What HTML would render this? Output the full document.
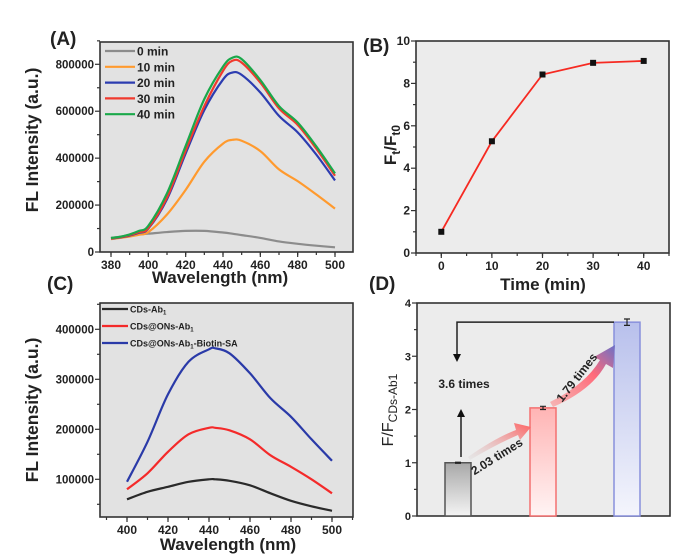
<!DOCTYPE html>
<html><head><meta charset="utf-8"><style>
html,body{margin:0;padding:0;background:#fff;}
svg{display:block;font-family:"Liberation Sans",Arial,sans-serif;font-weight:bold;}
</style></head><body>
<svg id="fig" width="700" height="559" viewBox="0 0 700 559">
<defs>
<linearGradient id="gGray" x1="0" y1="0" x2="0" y2="1"><stop offset="0" stop-color="#a8a8a8"/><stop offset="1" stop-color="#f4f4f4"/></linearGradient>
<linearGradient id="gRed" x1="0" y1="0" x2="0" y2="1"><stop offset="0" stop-color="#ffb4b4"/><stop offset="1" stop-color="#fff4f4"/></linearGradient>
<linearGradient id="gBlue" x1="0" y1="0" x2="0" y2="1"><stop offset="0" stop-color="#b8c0ec"/><stop offset="1" stop-color="#f4f5fc"/></linearGradient>
<linearGradient id="gA1" x1="0" y1="1" x2="1" y2="0"><stop offset="0" stop-color="#d8d8d8" stop-opacity="0.3"/><stop offset="1" stop-color="#ff6060"/></linearGradient>
<linearGradient id="gA2" x1="0" y1="1" x2="1" y2="0"><stop offset="0" stop-color="#ff8080" stop-opacity="0.5"/><stop offset="0.6" stop-color="#ff6a7a"/><stop offset="1" stop-color="#6a70c8"/></linearGradient>
</defs>
</svg>
<script>
// ---------- DATA ----------
const wlA = [380,385,390,395,400,410,420,430,440,445,450,460,470,480,490,500];
const a0  = [60,65,72,75,78,85,90,90,83,78,72,60,45,35,27,20];
const a10 = [55,60,66,74,85,160,265,385,462,478,474,430,352,302,245,185];
const a20 = [57,62,70,82,100,225,420,605,735,765,755,680,580,510,415,305];
const a30 = [58,63,72,85,102,232,432,622,772,815,807,722,612,542,440,325];
const a40 = [60,65,75,90,112,250,452,652,790,828,822,733,622,552,450,335];
const seriesA = [a0,a10,a20,a30,a40];
const namesA = ["0 min","10 min","20 min","30 min","40 min"];
const colorsA = ["#8c8c8c","#ff9a2e","#2c3cb0","#f03a2e","#1aa84a"];

const timeB = [0,10,20,30,40];
const valB = [1.0,5.27,8.42,8.97,9.06];

const wlC = [400,410,420,430,440,443,450,460,470,480,490,500];
const cBlack = [60,75,85,95,100,100,97,88,72,57,46,37];
const cRed = [80,112,155,190,203,203,198,180,148,125,100,72];
const cBlue = [95,175,270,335,360,362,352,312,262,225,180,137];
const namesC = ["CDs-Ab","CDs@ONs-Ab","CDs@ONs-Ab"];
const colorsC = ["#2a2a2a","#f42a2a","#2a3aa8"];

const catD = ["CDs-Ab1","CDs@ONs-Ab1","CDs@ONs-Ab1-Biotin-SA"];
const valD = [1.0,2.03,3.64];
const errD = [0.01,0.03,0.06];

// ---------- helpers ----------
const svg = document.getElementById('fig');
const NS = "http://www.w3.org/2000/svg";
function mk(tag, attrs, parent){const e=document.createElementNS(NS,tag);for(const k in attrs)e.setAttribute(k,attrs[k]);(parent||svg).appendChild(e);return e;}
function txt(s,x,y,size,extra,parent){const t=mk('text',Object.assign({x:x,y:y,'font-size':size,fill:'#222'},extra||{}),parent);t.textContent=s;return t;}
function lin(d0,d1,r0,r1){return v=>r0+(v-d0)/(d1-d0)*(r1-r0);}
function smooth(pts){let d="M"+pts[0][0]+","+pts[0][1];for(let i=0;i<pts.length-1;i++){const p0=pts[i-1]||pts[i],p1=pts[i],p2=pts[i+1],p3=pts[i+2]||p2;const c1=[p1[0]+(p2[0]-p0[0])/6,p1[1]+(p2[1]-p0[1])/6],c2=[p2[0]-(p3[0]-p1[0])/6,p2[1]-(p3[1]-p1[1])/6];d+=` C${c1[0]},${c1[1]} ${c2[0]},${c2[1]} ${p2[0]},${p2[1]}`;}return d;}
function frame(L,T,R,B,fill,name){
  const g=mk('g',{});
  
  
  mk('rect',{x:L,y:T,width:R-L,height:B-T,fill:fill,stroke:'#333','stroke-width':1.6},g);
  return g;
}
function xTicks(g,sx,B,majors,minors,fmt){
  for(const v of minors)mk('line',{x1:sx(v),x2:sx(v),y1:B,y2:B+3,stroke:'#333','stroke-width':1.2},g);
  for(const v of majors){mk('line',{x1:sx(v),x2:sx(v),y1:B,y2:B+5,stroke:'#333','stroke-width':1.2},g);
    const t=txt(fmt?fmt(v):String(v),sx(v),B+17,12,{'text-anchor':'middle'},g);
    
    }
}
function yTicks(g,sy,L,majors,minors,size){
  for(const v of minors)mk('line',{x1:L,x2:L-3,y1:sy(v),y2:sy(v),stroke:'#333','stroke-width':1.2},g);
  for(const v of majors){mk('line',{x1:L,x2:L-5,y1:sy(v),y2:sy(v),stroke:'#333','stroke-width':1.2},g);
    const t=txt(String(v),L-6,sy(v)+4,size||12,{'text-anchor':'end'},g);
    
    }
}
function range(a,b,s){const r=[];for(let v=a;v<=b+1e-9;v+=s)r.push(+v.toFixed(6));return r;}

// ---------- Panel A ----------
{
 const L=100,T=42,R=353,B=252;
 const sx=lin(380,500,111,335), sy=lin(0,800,252,64.3);
 const g=frame(L,T,R,B,'#e2e2e2','panel-a');
 xTicks(g,sx,B,range(380,500,20),range(380,500,10));
 yTicks(g,v=>sy(v/1000),L,range(0,800000,200000),range(100000,900000,200000),11.5);
 seriesA.forEach((s,i)=>{
   const p=mk('path',{d:smooth(wlA.map((w,j)=>[sx(w),sy(s[j])])),fill:'none',stroke:colorsA[i],'stroke-width':2.2},g);
   
   
   const ly=51+i*15.8;
   mk('line',{x1:105,x2:135,y1:ly,y2:ly,stroke:colorsA[i],'stroke-width':2.2},g);
   const t=txt(namesA[i],137,ly+4.5,12,{},g);
   
   
 });
 const yl=txt('FL Intensity (a.u.)',0,0,17.5,{'text-anchor':'middle',transform:'translate(38,140) rotate(-90)'});
 
 
 const xl=txt('Wavelength (nm)',220,283,17,{'text-anchor':'middle'});
 
 
 const pl=txt('(A)',50,45,19,{});
 
 
}

// ---------- Panel B ----------
{
 const L=416,T=41,R=669,B=253;
 const sx=lin(-5,45,L,R), sy=lin(0,10,B,T);
 const g=frame(L,T,R,B,'#ececec','panel-b');
 xTicks(g,sx,B,range(0,40,10),range(-5,45,5));
 yTicks(g,sy,L,range(0,10,2),range(1,9,2));
 const p=mk('polyline',{points:timeB.map((t,i)=>sx(t)+','+sy(valB[i])).join(' '),fill:'none',stroke:'#f62a22','stroke-width':1.8},g);
 
 
 timeB.forEach((t,i)=>{
   const r=mk('rect',{x:sx(t)-3,y:sy(valB[i])-3,width:6,height:6,fill:'#111'},g);
   
   
 });
 const yl=mk('text',{x:0,y:0,'font-size':17,fill:'#222','text-anchor':'middle',transform:'translate(396,145) rotate(-90)'});
 yl.innerHTML='F<tspan font-size="12" dy="4">t</tspan><tspan dy="-4">/F</tspan><tspan font-size="12" dy="4">t0</tspan>';
 
 
 const xl=txt('Time (min)',543,290,17,{'text-anchor':'middle'});
 
 
 const pl=txt('(B)',363,52,19,{});
 
 
}

// ---------- Panel C ----------
{
 const L=100,T=303,R=353,B=517;
 const sx=lin(400,500,127,332), sy=lin(100,400,479.3,329.3);
 const g=frame(L,T,R,B,'#e2e2e2','panel-c');
 xTicks(g,sx,B,range(400,500,20),range(390,510,10));
 yTicks(g,v=>sy(v/1000),L,range(100000,400000,100000),range(50000,450000,100000),11.5);
 [cBlack,cRed,cBlue].forEach((s,i)=>{
   const p=mk('path',{d:smooth(wlC.map((w,j)=>[sx(w),sy(s[j])])),fill:'none',stroke:colorsC[i],'stroke-width':2.2},g);
   
   
   const ly=309+i*17;
   mk('line',{x1:102,x2:128,y1:ly,y2:ly,stroke:colorsC[i],'stroke-width':2.2},g);
   const t=mk('text',{x:130,y:ly+3.5,'font-size':9,fill:'#222'},g);
   t.innerHTML=namesC[i]+'<tspan font-size="6" dy="2">1</tspan>'+(i==2?'<tspan dy="-2">-Biotin-SA</tspan>':'');
   
   
 });
 const yl=txt('FL Intensity (a.u.)',0,0,17.5,{'text-anchor':'middle',transform:'translate(38,410) rotate(-90)'});
 
 
 const xl=txt('Wavelength (nm)',228,550,17,{'text-anchor':'middle'});
 
 
 const pl=txt('(C)',47,290,19,{});
 
 
}

// ---------- Panel D ----------
{
 const L=417,T=303,R=670,B=516;
 const sy=lin(0,4,B,T);
 const xc=[458,543,627], bw=26;
 const g=frame(L,T,R,B,'#ececec','panel-d');
 yTicks(g,sy,L,range(0,4,1),range(0.5,3.5,1),11);
 const fills=['url(#gGray)','url(#gRed)','url(#gBlue)'], strokes=['#555','#f47070','#8890dc'];
 valD.forEach((v,i)=>{
   const r=mk('rect',{x:xc[i]-bw/2,y:sy(v),width:bw,height:B-sy(v),fill:fills[i],stroke:strokes[i],'stroke-width':1.5},g);
   
   
   const e=mk('path',{d:`M${xc[i]},${sy(v+errD[i])}V${sy(v-errD[i])}M${xc[i]-3},${sy(v+errD[i])}h6M${xc[i]-3},${sy(v-errD[i])}h6`,stroke:'#222','stroke-width':1.2,fill:'none'},g);
   
   
 });
 const br=mk('path',{d:`M${xc[2]-13},${sy(valD[2])} H457 V355`,stroke:'#222','stroke-width':1.5,fill:'none'});
 
 
 mk('path',{d:'M453,354 L461,354 L457,362 Z',fill:'#111'});
 const ua=mk('path',{d:'M461,457 V416',stroke:'#222','stroke-width':1.5});
 
 
 mk('path',{d:'M457,417 L465,417 L461,409 Z',fill:'#111'});
 const a1=mk('path',{d:'M468,457 Q495,438 516,430 L514,423 L531,427 L520,440 L518,435 Q497,444 470,460 Z',fill:'url(#gA1)'});
 
 
 const a2=mk('path',{d:'M550,402 Q585,385 600,360 L594,357 L615,345 L613,368 L606,364 Q592,390 553,407 Z',fill:'url(#gA2)'});
 
 
 const t1=txt('3.6 times',464,388,12,{'text-anchor':'middle'});
 
 
 const t2=txt('2.03 times',0,0,12,{'text-anchor':'middle',transform:'translate(499,460) rotate(-32)'});
 
 
 const t3=txt('1.79 times',0,0,12,{'text-anchor':'middle',transform:'translate(580,380) rotate(-52)'});
 
 
 const yl=mk('text',{x:0,y:0,'font-size':16,fill:'#222','font-weight':'normal','text-anchor':'middle',transform:'translate(393,410) rotate(-90)'});
 yl.innerHTML='F/F<tspan font-size="12" dy="4">CDs-Ab1</tspan>';
 
 
 const pl=txt('(D)',369,290,19,{});
 
 
}
</script>
</body></html>
